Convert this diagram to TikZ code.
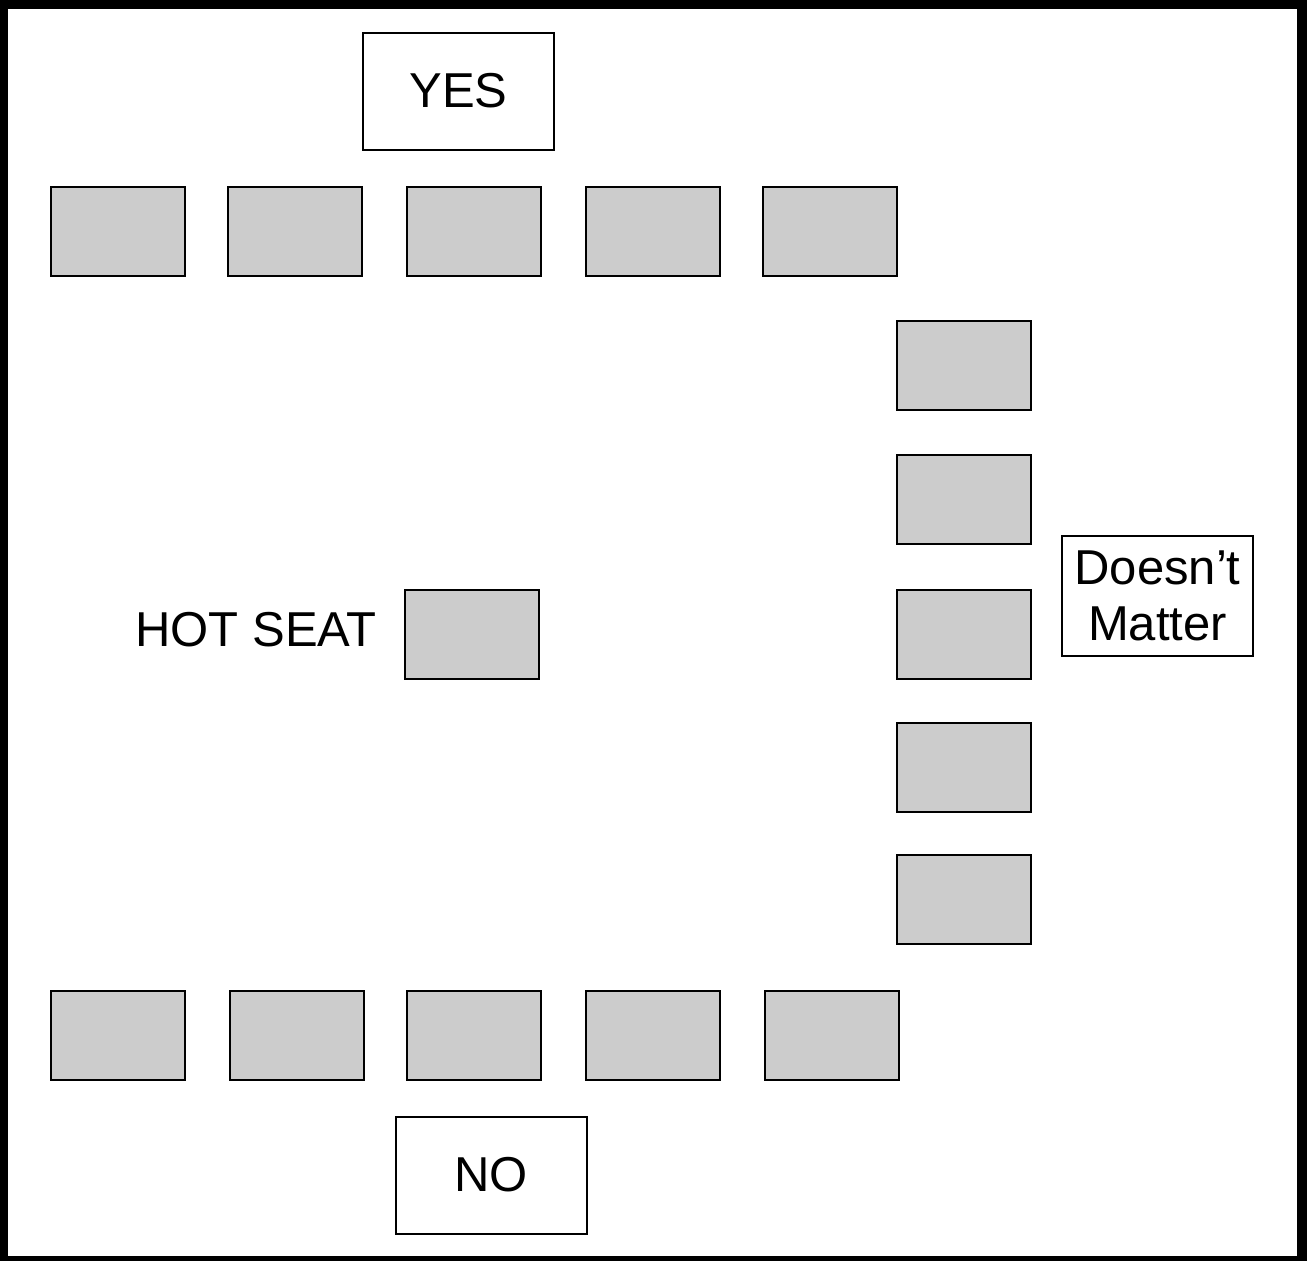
\documentclass[tikz,border=0pt]{standalone}
\usepackage{fontspec}
\setmainfont{Liberation Sans}
\tikzset{seat/.style={draw, line width=2pt, fill=seatgray, minimum width=134pt, minimum height=89pt, inner sep=0pt, outer sep=0pt},
lbl/.style={draw, line width=2pt, fill=white, minimum width=191pt, inner sep=0pt, outer sep=0pt, align=center, font=\fontsize{49}{56}\selectfont}}
\definecolor{seatgray}{HTML}{CCCCCC}

\begin{document}
\begin{tikzpicture}[x=1pt,y=-1pt]
\fill (0,0) rectangle (1307,1261);
\fill[white] (8,9) rectangle (1297,1256);
\foreach \x [count=\i] in {118,295,473.5,652.5,829.5}{\node[seat] (t\i) at (\x,231.5) {};}
\foreach \y [count=\i] in {365.5,499.5,634,767,899.5}{\node[seat] (r\i) at (963.5,\y) {};}
\foreach \x [count=\i] in {118,297,473.5,652.5,831.5}{\node[seat] (b\i) at (\x,1035) {};}
\node[seat] (hot) at (471.5,634.5) {};
\node[font=\fontsize{49}{56}\selectfont, anchor=east, inner sep=0pt] (hotlbl) at (377,630) {HOT SEAT};
\node[lbl, minimum height=117pt] (yes) at (458.5,91) {YES};
\node[lbl, minimum height=117pt] (no) at (491,1175) {NO};
\node[lbl, minimum height=120pt] (dm) at (1157.5,596) {Doesn’t\\Matter};
\end{tikzpicture}
\end{document}
